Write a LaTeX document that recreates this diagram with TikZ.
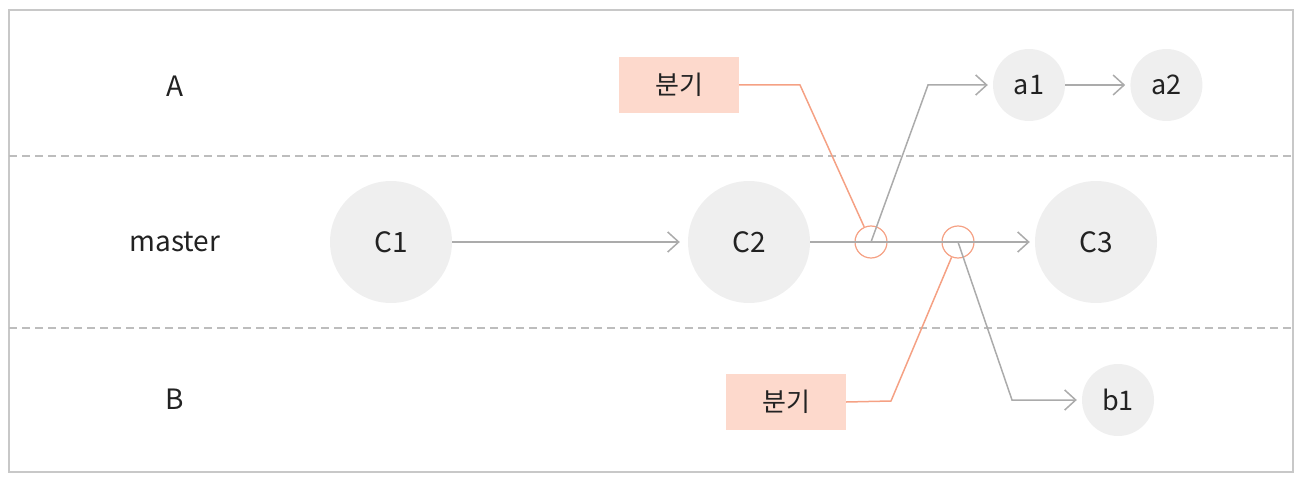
\documentclass[tikz,border=0pt]{standalone}
\usepackage{fontspec}
\setmainfont{Noto Sans CJK KR}
\usepackage{xcolor}
\usepackage{tikz}
\usetikzlibrary{arrows.meta, positioning}

\definecolor{commitgray}{HTML}{EFEFEF}
\definecolor{linegray}{HTML}{ABABAB}
\definecolor{dashgray}{HTML}{BDBDBD}
\definecolor{framegray}{HTML}{C8C8C8}
\definecolor{salmon}{HTML}{F5A184}
\definecolor{boxfill}{HTML}{FDD9CC}
\definecolor{txt}{HTML}{222222}

\begin{document}
\begin{tikzpicture}[x=1pt,y=-1pt,
    >={Straight Barb[length=11pt,width=20pt]},
    lane/.style={text=txt, font=\fontsize{28}{32}\selectfont},
    bigcommit/.style={circle, fill=commitgray, minimum size=122pt, inner sep=0pt, text=txt, font=\fontsize{28}{32}\selectfont},
    smallcommit/.style={circle, fill=commitgray, minimum size=72pt, inner sep=0pt, text=txt, font=\fontsize{27}{32}\selectfont},
    branchbox/.style={fill=boxfill, minimum width=120pt, minimum height=56pt, inner sep=0pt, text=txt, font=\fontsize{26}{30}\selectfont},
    marker/.style={circle, draw=salmon, line width=1.2pt, minimum size=32pt, inner sep=0pt},
    link/.style={draw=linegray, line width=1.5pt, shorten >=5pt},
    pointer/.style={draw=salmon, line width=1.5pt}]
            \useasboundingbox (0,0) rectangle (1308,478);
            % Cadre et séparations des branches
            \draw[framegray, line width=1.5pt] (9,10) rectangle (1293,472);
            \draw[dashgray, line width=1.5pt, dash pattern=on 8pt off 5pt] (9,156) -- (1293,156);
            \draw[dashgray, line width=1.5pt, dash pattern=on 8pt off 5pt] (9,328) -- (1293,328);

            % Noms des branches
            \node[lane] (laneA) at (175,86) {A};
            \node[lane] (laneM) at (175,242) {master};
            \node[lane] (laneB) at (175,399) {B};

            % Commits
            \node[bigcommit] (C1) at (391,242) {C1};
            \node[bigcommit] (C2) at (749,242) {C2};
            \node[bigcommit] (C3) at (1096,242) {C3};
            \node[smallcommit] (a1) at (1029,85) {a1};
            \node[smallcommit, right=65pt of a1] (a2) {a2};
            \node[smallcommit] (b1) at (1118,400) {b1};

            % Points de branchement et étiquettes
            \node[marker] (m1) at (871,242) {};
            \node[marker] (m2) at (958,242) {};
            \node[branchbox] (boxA) at (679,85) {분기};
            \node[branchbox] (boxB) at (786,402) {분기};
            \coordinate (kneeA) at (800,85);
            \coordinate (kneeB) at (891,401);
            \coordinate (bendA) at (928,85);
            \coordinate (bendB) at (1012,400);

            % Arêtes
            \draw[link, ->, shorten >=8pt] (C1) -- (C2);
            \draw[link, ->] (C2) -- (C3);
            \draw[link, ->] (m1.center) -- (bendA) -- (a1);
            \draw[link, ->] (a1) -- (a2);
            \draw[link, ->] (m2.center) -- (bendB) -- (b1);
            \draw[pointer] (boxA.east) -- (kneeA) -- (m1);
            \draw[pointer] (boxB.east) -- (kneeB) -- (m2);
        \end{tikzpicture}
\end{document}
